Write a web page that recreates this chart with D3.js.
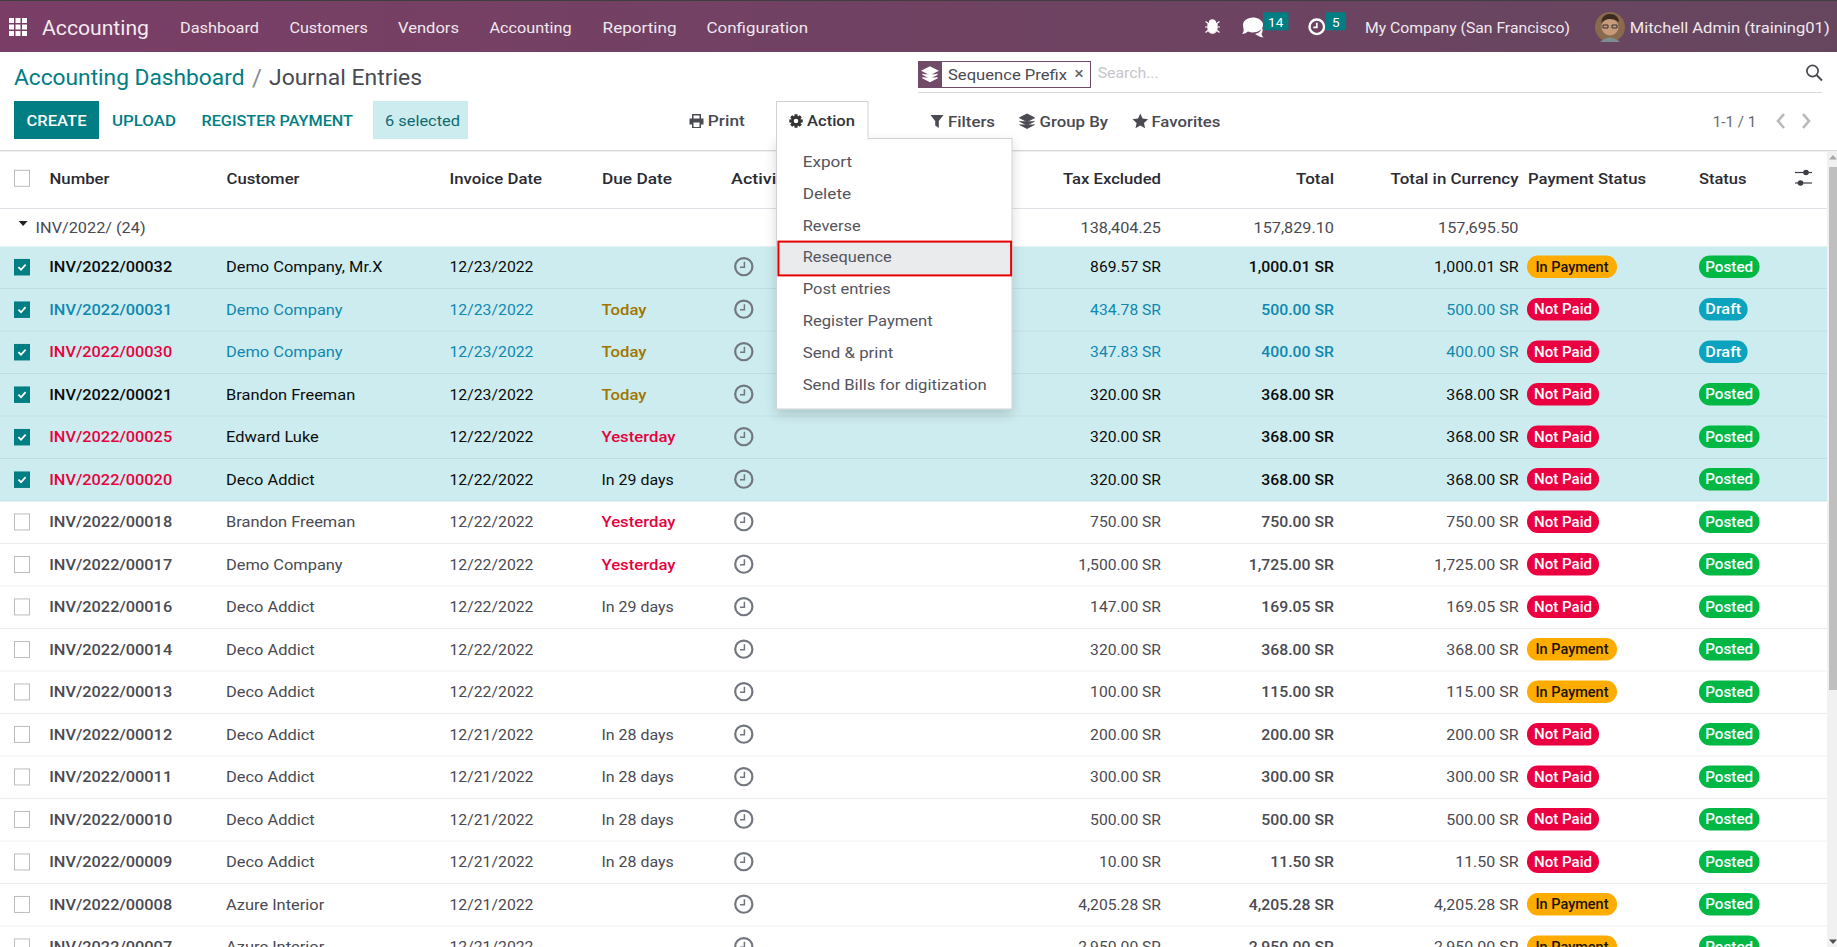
<!DOCTYPE html>
<html><head><meta charset="utf-8">
<script src="https://d3js.org/d3.v7.min.js"></script>
<style>html,body{margin:0;padding:0;background:#fff;overflow:hidden}svg{display:block}text{font-family:Roboto,"Noto Sans",sans-serif;white-space:pre}</style>
</head><body><svg id="c" width="1837" height="947"></svg>
<script>
const numbers=["INV/2022/00032","INV/2022/00031","INV/2022/00030","INV/2022/00021","INV/2022/00025","INV/2022/00020","INV/2022/00018","INV/2022/00017","INV/2022/00016","INV/2022/00014","INV/2022/00013","INV/2022/00012","INV/2022/00011","INV/2022/00010","INV/2022/00009","INV/2022/00008","INV/2022/00007"];
const customers=["Demo Company, Mr.X","Demo Company","Demo Company","Brandon Freeman","Edward Luke","Deco Addict","Brandon Freeman","Demo Company","Deco Addict","Deco Addict","Deco Addict","Deco Addict","Deco Addict","Deco Addict","Deco Addict","Azure Interior","Azure Interior"];
const invoiceDates=["12/23/2022","12/23/2022","12/23/2022","12/23/2022","12/22/2022","12/22/2022","12/22/2022","12/22/2022","12/22/2022","12/22/2022","12/22/2022","12/21/2022","12/21/2022","12/21/2022","12/21/2022","12/21/2022","12/21/2022"];
const dueDates=["","Today","Today","Today","Yesterday","In 29 days","Yesterday","Yesterday","In 29 days","","","In 28 days","In 28 days","In 28 days","In 28 days","",""];
const taxExcluded=[869.57,434.78,347.83,320,320,320,750,1500,147,320,100,200,300,500,10,4205.28,2950];
const totals=[1000.01,500,400,368,368,368,750,1725,169.05,368,115,200,300,500,11.5,4205.28,2950];
const currencyTotals=[1000.01,500,400,368,368,368,750,1725,169.05,368,115,200,300,500,11.5,4205.28,2950];
const paymentStatus=["In Payment","Not Paid","Not Paid","Not Paid","Not Paid","Not Paid","Not Paid","Not Paid","Not Paid","In Payment","In Payment","Not Paid","Not Paid","Not Paid","Not Paid","In Payment","In Payment"];
const statuses=["Posted","Draft","Draft","Posted","Posted","Posted","Posted","Posted","Posted","Posted","Posted","Posted","Posted","Posted","Posted","Posted","Posted"];
const overdueNumbers=["INV/2022/00030","INV/2022/00025","INV/2022/00020"];
const selectedCount=6;
const groupLabel="INV/2022/ (24)";
const groupTotals=[138404.25,157829.10,157695.50];
const navItems=["Dashboard","Customers","Vendors","Accounting","Reporting","Configuration"];
const menuItems=["Export","Delete","Reverse","Resequence","Post entries","Register Payment","Send & print","Send Bills for digitization"];
const headers=["Number","Customer","Invoice Date","Due Date","Activity","Tax Excluded","Total","Total in Currency","Payment Status","Status"];

const svg=d3.select("#c");
const fmt=d3.format(",.2f");
const TEAL="#017e84",GREY="#4a4a52",INK="#0c0c0c",BLUE="#1088b0",RED="#e6023f",OLIVE="#a07600";
const T=(x,y,s,o={})=>{const t=(o.g||svg).append("text").attr("x",x).attr("y",y).text(s)
  .attr("font-size",o.size||15.2).attr("font-weight",o.weight||400).attr("fill",o.fill||GREY).attr("text-anchor",o.anchor||"start");
  const w=o.w||(o.k?t.node().getComputedTextLength()*o.k:0);
  if(w)t.attr("textLength",w).attr("lengthAdjust","spacingAndGlyphs");return t;};
const R=(x,y,w,h,fill,o={})=>(o.g||svg).append("rect").attr("x",x).attr("y",y).attr("width",w).attr("height",h).attr("fill",fill).attr("rx",o.r||0).attr("stroke",o.stroke||"none").attr("stroke-width",o.sw||1);
const P=(d,x,y,o={})=>(o.g||svg).append("path").attr("d",d).attr("transform",`translate(${x},${y})`).attr("fill",o.fill||"none").attr("stroke",o.stroke||"none").attr("stroke-width",o.sw||1).attr("fill-rule","evenodd").attr("stroke-linecap",o.cap||"butt");

// gradient + shadow
const defs=svg.append("defs");
const lg=defs.append("linearGradient").attr("id","nav");
lg.append("stop").attr("offset","0").attr("stop-color","#7a3e66");
lg.append("stop").attr("offset","1").attr("stop-color","#66465f");
defs.append("filter").attr("id","sh").attr("x","-10%").attr("y","-10%").attr("width","120%").attr("height","125%").append("feDropShadow").attr("dx",0).attr("dy",5).attr("stdDeviation",6).attr("flood-color","#000").attr("flood-opacity",.16);

// NAV BAR
R(0,0,1837,52,"url(#nav)"); R(0,0,1837,1,"#3f3f3f");
const grid=d3.range(3);
grid.forEach(i=>grid.forEach(j=>R(9+i*6.5,18+j*6.5,5,5,"#fff")));
T(42,35,"Accounting",{size:20.5,fill:"#f3eaf0",w:107});
const navX=d3.scaleOrdinal().domain(navItems).range([180,289.4,398,489.5,602.6,706.6]);
const navW=[79,78.5,61,82,74,101.5];
navItems.forEach((n,i)=>T(navX(n),33,n,{fill:"#f0e8ee",w:navW[i]}));
// systray
const bug="M-3 -2a3 2.6 0 0 1 6 0l0 .5h-6zM-4.5 -.6h9l0 4.5a4.5 4.8 0 0 1-9 0zM-7 -3l3 2M7 -3l-3 2M-7.5 2.5h3M7.5 2.5h-3M-7 8l3-2.5M7 8l-3-2.5";
P(bug,1212.5,24.5,{fill:"#fff",stroke:"#fff",sw:1.2});
P("M-9 -1a10 7.5 0 1 1 5 6.4q-2 2.4-6 2.6q2-2 1.7-4.5q-.7-2-.7-4.5z",1252,26,{fill:"#fff"});
P("M5 8a11 6.5 0 0 0 6-8a7 7 0 0 1 .5 8q.5 2 2 3.5q-3-.2-5-1.5z",1250,26,{fill:"#fff"});
R(1263,12.3,25.5,18,TEAL); T(1275.7,26.6,"14",{fill:"#fff",size:13.5,anchor:"middle"});
svg.append("circle").attr("cx",1316.8).attr("cy",26.8).attr("r",7.3).attr("fill","none").attr("stroke","#fff").attr("stroke-width",2.4);
P("M0 -4v4.5h-3.5",1316.8,26.8,{stroke:"#fff",sw:1.8});
R(1325.5,12.3,20.5,18,TEAL); T(1335.7,26.6,"5",{fill:"#fff",size:13.5,anchor:"middle"});
T(1365,33,"My Company (San Francisco)",{fill:"#f0e8ee",w:205});
// avatar
svg.append("circle").attr("cx",1610).attr("cy",27).attr("r",15).attr("fill","#8a6a4c");
svg.append("circle").attr("cx",1610).attr("cy",27).attr("r",8.5).attr("fill","#c79a7c");
P("M-9 -3q1-9 9-9q8 0 9 8q-4-3-9-3q-5 0-9 4z",1610,26,{fill:"#3a2a20"});
P("M-10 15q10-9 20 0z",1610,27,{fill:"#7d8c90"});
P("M-7 -1h5v3h-5zM2 -1h5v3h-5z",1610,26,{stroke:"#333",sw:1});
T(1629.7,33,"Mitchell Admin (training01)",{fill:"#f0e8ee",w:200});

// BREADCRUMB
T(14,85,"Accounting Dashboard",{size:22,fill:TEAL,w:230.5});
T(252,86,"/",{size:24,fill:"#8a8a92"});
T(269,85,"Journal Entries",{size:22,fill:GREY,w:153});

// BUTTONS
R(14,101,85,38,TEAL); T(56.5,125.5,"CREATE",{fill:"#fff",weight:500,anchor:"middle",w:60});
T(112,125.5,"UPLOAD",{fill:TEAL,weight:500,w:64});
T(201.5,125.5,"REGISTER PAYMENT",{fill:TEAL,weight:500,w:151.5});
R(373,101,95,38,"#cdecef"); T(385,125.5,"6 selected",{fill:"#0f6a70",w:75});

// SEARCH
R(918.5,61.5,172,26,"#fff",{stroke:"#714b67"}); R(918,61,24,27,"#714b67");
const stack="M0 -7L7.5 -3.2L0 .6L-7.5 -3.2zM-7.5 .2L0 4L7.5 .2M-7.5 3.6L0 7.4L7.5 3.6";
P(stack,930,74,{fill:"#fff",stroke:"#fff",sw:1.3});
T(948,80,"Sequence Prefix",{fill:GREY,w:119});
T(1079,78.5,"×",{size:17,fill:"#666",anchor:"middle",weight:500});
T(1097.7,78,"Search...",{fill:"#c6c6cc",w:61});
R(918,92,904,1,"#d8dadd");
svg.append("circle").attr("cx",1812.5).attr("cy",71).attr("r",5.6).attr("fill","none").attr("stroke",GREY).attr("stroke-width",1.7);
P("M4 4L9.5 9.5",1812.5,71,{stroke:GREY,sw:2});

// PRINT / FILTERS
P("M-4.5 -2.5V-7h9V-2.5h2.5v6h-2.5v3.5h-9V3.5H-7v-6zM-3 -2.5h6V-5.5h-6zM-3 1.5v4.5h6V1.5z",696.5,121,{fill:GREY});
T(707.8,126,"Print",{fill:GREY,weight:500,w:37});
T(948,126.5,"Filters",{fill:GREY,weight:500,w:47});
P("M-6.5 -6h13L1.8 0v7L-1.8 4.5V0z",937,121,{fill:GREY});
P(stack,1027,121,{fill:GREY,stroke:GREY,sw:1});
T(1039.5,126.5,"Group By",{fill:GREY,weight:500,w:68.5});
P("M0 -7.5L2.3 -2.4L7.8 -1.8L3.7 1.9L4.8 7.3L0 4.6L-4.8 7.3L-3.7 1.9L-7.8 -1.8L-2.3 -2.4z",1140.3,121,{fill:GREY});
T(1151.4,126.5,"Favorites",{fill:GREY,weight:500,w:69});
T(1712.7,127,"1-1 / 1",{fill:"#6a6a72",w:43.5});
P("M5 -7L-1 0L5 7",1779,121,{stroke:"#b8b8bc",sw:2.6});
P("M-5 -7L1 0L-5 7",1808,121,{stroke:"#b8b8bc",sw:2.6});

R(0,150,1837,1.4,"#d6d8dc");

// TABLE
const y=d3.scaleBand().domain(numbers).range([246.4,246.4+17*42.5]);
const hx={Number:49.5,Customer:226.5,"Invoice Date":449.5,"Due Date":602,Activity:731,"Payment Status":1528,Status:1699};
const hr={"Tax Excluded":1161,Total:1334,"Total in Currency":1518.5};
const hw={Number:60,Customer:73,"Invoice Date":92.5,"Due Date":70,Activity:60,"Tax Excluded":98,Total:38,"Total in Currency":128,"Payment Status":118,Status:47.5};
headers.forEach(h=>{const a=h in hr;T(a?hr[h]:hx[h],183.8,h,{fill:"#2b2b33",weight:500,anchor:a?"end":"start",w:hw[h]});});
const box=(cy,g)=>R(14.5,cy-8,15,16,"#fff",{stroke:"#bcbcc0",g});
box(178.3);
[[1795,1812,172.5,1806],[1795,1812,183,1800.5]].forEach(l=>{P(`M${l[0]} ${l[2]}H${l[1]}`,0,0,{stroke:"#3d3d48",sw:1.2});svg.append("circle").attr("cx",l[3]).attr("cy",l[2]).attr("r",2.8).attr("fill","#3d3d48");});
R(0,208,1827,1,"#e0e1e6");
P("M0 0H9L4.5 5z",18.6,221,{fill:"#222"});
T(35.6,232.5,groupLabel,{fill:GREY,weight:400,w:110});
["Tax Excluded","Total","Total in Currency"].forEach((k,i)=>T(hr[k],232.5,fmt(groupTotals[i]),{anchor:"end",w:80.5}));

const rows=svg.selectAll("g.row").data(numbers).join("g").attr("class","row").attr("transform",d=>`translate(0,${y(d)})`);
rows.each(function(n,i){
  const g=d3.select(this),H=y.bandwidth(),sel=i<selectedCount,draft=statuses[i]==="Draft";
  const base=draft?BLUE:sel?INK:GREY;
  R(0,0,1827,H,sel?"#cdecef":"#fff",{g});
  R(0,H-.6,1827,1,sel?"#b7d6dc":"#e0e1e6",{g});
  const cy=H/2-.7,bl=cy+5.4;
  if(sel){R(14,cy-8,16,16.5,TEAL,{g});P("M-3.6 .2L-1 2.8L3.6 -2.4",22,cy,{stroke:"#fff",sw:1.8,g});}
  else box(cy,g);
  const numFill=overdueNumbers.includes(n)?RED:(sel&&!draft?INK:draft?BLUE:GREY);
  T(49.2,bl,n,{g,fill:numFill,weight:500,w:123});
  T(226,bl,customers[i],{g,fill:base,k:1.08});
  T(449.5,bl,invoiceDates[i],{g,fill:base,w:84});
  const d=dueDates[i],late=d==="Yesterday",tod=d==="Today";
  if(d)T(601.5,bl,d,{g,fill:late?RED:tod?OLIVE:base,weight:late||tod?500:400,k:late||tod?1.1:1.05});
  g.append("circle").attr("cx",743.8).attr("cy",cy-.3).attr("r",8.6).attr("fill","none").attr("stroke","#72767e").attr("stroke-width",2.2);
  P("M.6 -5V.6H-3.8",743.8,cy-.3,{g,stroke:"#72767e",sw:1.5});
  T(1161,bl,fmt(taxExcluded[i])+" SR",{g,anchor:"end",fill:base,k:1.03});
  T(1334,bl,fmt(totals[i])+" SR",{g,anchor:"end",fill:base,weight:500,k:1.04});
  T(1518.5,bl,fmt(currencyTotals[i])+" SR",{g,anchor:"end",fill:base,k:1.05});
  const ip=paymentStatus[i]==="In Payment";
  R(1527,cy-11.5,ip?90:72,22.5,ip?"#ffac00":"#ea0041",{g,r:11});
  T(ip?1572:1563,cy+4.8,paymentStatus[i],{g,fill:ip?"#1a1300":"#fff",size:14.3,weight:500,anchor:"middle",w:ip?73:58});
  const dr=statuses[i]==="Draft";
  R(1699,cy-11.5,dr?48.6:60.5,22.5,dr?"#0ca3bf":"#00b843",{g,r:11});
  T(dr?1723.3:1729.2,cy+4.8,statuses[i],{g,fill:"#fff",size:14.3,weight:500,anchor:"middle",w:dr?36:48});
});

// SCROLLBAR
R(1827,151,10,796,"#f1f1f1"); R(1829,167,8,523,"#bfbfbf");
P("M0 -3L4 1.5H-4z",1833,158,{fill:"#a8a8a8"}); P("M0 3L4 -1.5H-4z",1833,941,{fill:"#505050"});

// ACTION MENU
const menu=svg.append("g");
R(776.5,138.5,235.5,270.5,"#fff",{g:menu,stroke:"#cfd1d5"}).attr("filter","url(#sh)");
R(776.5,101.5,91.5,38,"#fff",{g:menu,stroke:"#cfd1d5"}); R(777,136,90.5,4,"#fff",{g:menu});
const gear=d3.range(8).map(k=>{const a=k*Math.PI/4;return `M${6.9*Math.cos(a-.22)} ${6.9*Math.sin(a-.22)}L${6.9*Math.cos(a+.22)} ${6.9*Math.sin(a+.22)}L${4.5*Math.cos(a+.4)} ${4.5*Math.sin(a+.4)}L${4.5*Math.cos(a-.4)} ${4.5*Math.sin(a-.4)}z`;}).join("");
P(gear,796,121,{g:menu,fill:"#333"});
menu.append("circle").attr("cx",796).attr("cy",121).attr("r",3.6).attr("fill","none").attr("stroke","#333").attr("stroke-width",2.6);
T(807,126,"Action",{g:menu,fill:"#33333b",weight:500,w:48});
R(778.4,241.6,232.7,33.8,"#e9ebed",{g:menu,stroke:"#e60000",sw:2});
const my=d3.scalePoint().domain(menuItems).range([166.9,389.9]);
const mw=[49.5,48.5,58,89,88,130,90.5,184];
menuItems.forEach((m,i)=>T(802.7,my(m),m,{g:menu,fill:"#55555e",w:mw[i]}));
</script></body></html>
